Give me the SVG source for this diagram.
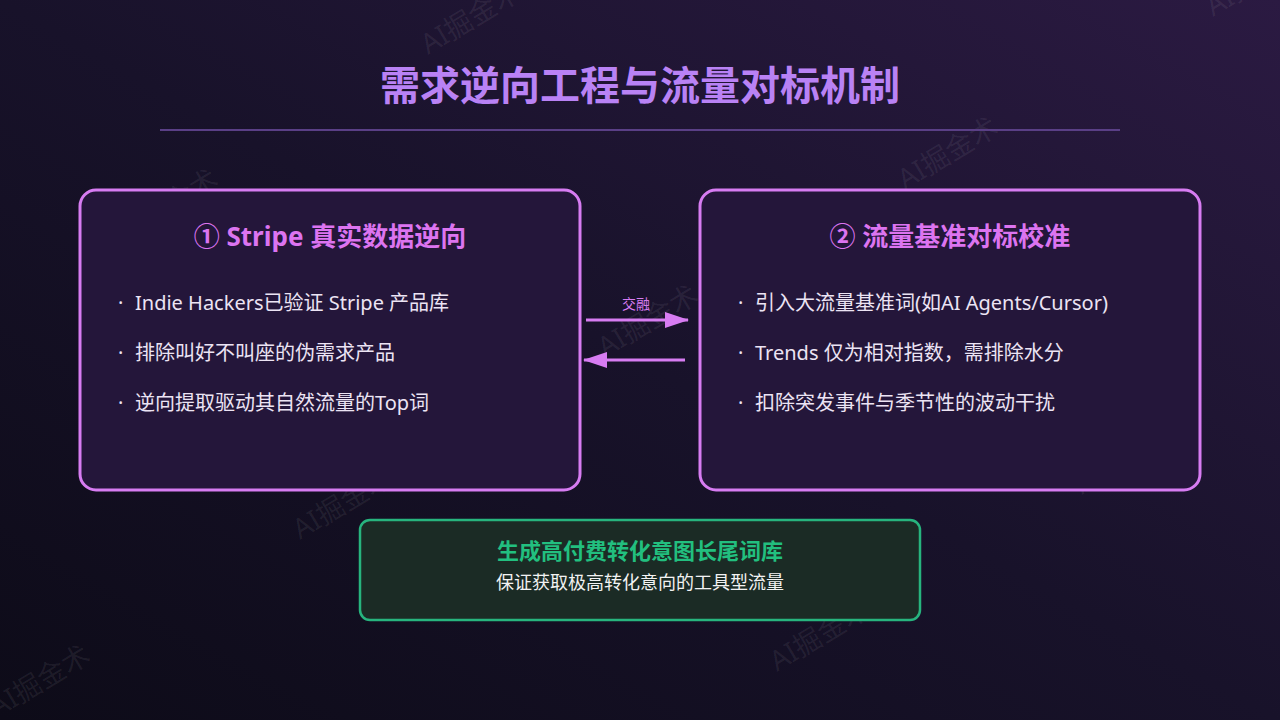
<svg xmlns="http://www.w3.org/2000/svg" width="1280" height="720" viewBox="0 0 1280 720">
  <defs>
    <linearGradient id="bg" x1="0" y1="1" x2="1" y2="0">
      <stop offset="0" stop-color="#0d0b18"/>
      <stop offset="0.5" stop-color="#18122a"/>
      <stop offset="1" stop-color="#2b1a42"/>
    </linearGradient>
    <marker id="ahb" viewBox="0 0 24 16" refX="23" refY="8" markerWidth="24" markerHeight="16" markerUnits="userSpaceOnUse" orient="auto">
      <path d="M0,0 L24,8 L0,16 Z" fill="#d77cf2"/>
    </marker>
  </defs>
  <style>
    text { font-family: "Noto Sans", "Noto Sans CJK SC", sans-serif; }
    .wm { font-size: 28px; fill: #ffffff; fill-opacity: 0.07; }
    .card { fill: #24163a; stroke: #d77cf2; stroke-width: 3; }
    .ctitle { font-size: 26px; font-weight: 700; fill: #dc74f0; text-anchor: middle; }
    .bullet { font-size: 20px; fill: #ece4f4; }
    .conn { stroke: #d77cf2; stroke-width: 3; fill: none; }
  </style>
  <rect width="1280" height="720" fill="url(#bg)"/>

  <g id="watermarks">
    <text class="wm" transform="translate(125,242) rotate(-31)">AI掘金术</text>
    <text class="wm" transform="translate(428,55) rotate(-31)">AI掘金术</text>
    <text class="wm" transform="translate(1213,17) rotate(-31)">AI掘金术</text>
    <text class="wm" transform="translate(905,190) rotate(-31)">AI掘金术</text>
    <text class="wm" transform="translate(300,540) rotate(-31)">AI掘金术</text>
    <text class="wm" transform="translate(605,358) rotate(-31)">AI掘金术</text>
    <text class="wm" transform="translate(1082,495) rotate(-31)">AI掘金术</text>
    <text class="wm" transform="translate(777,672) rotate(-31)">AI掘金术</text>
    <text class="wm" transform="translate(-3,718) rotate(-31)">AI掘金术</text>
  </g>

  <g id="title">
    <text x="640" y="100" text-anchor="middle" font-size="40" font-weight="700" fill="#b982f5">需求逆向工程与流量对标机制</text>
    <line x1="160" y1="130" x2="1120" y2="130" stroke="#5a3f86" stroke-width="2"/>
  </g>

  <g id="node-stripe">
    <rect class="card" x="80" y="190" width="500" height="300" rx="16"/>
    <text class="ctitle" x="330" y="246">① Stripe 真实数据逆向</text>
    <text class="bullet" x="118" y="310">·</text>
    <text class="bullet" x="135" y="310">Indie Hackers已验证 Stripe 产品库</text>
    <text class="bullet" x="118" y="360">·</text>
    <text class="bullet" x="135" y="360">排除叫好不叫座的伪需求产品</text>
    <text class="bullet" x="118" y="410">·</text>
    <text class="bullet" x="135" y="410">逆向提取驱动其自然流量的Top词</text>
  </g>

  <g id="node-benchmark">
    <rect class="card" x="700" y="190" width="500" height="300" rx="16"/>
    <text class="ctitle" x="950" y="246">② 流量基准对标校准</text>
    <text class="bullet" x="738" y="310">·</text>
    <text class="bullet" x="755" y="310">引入大流量基准词(如AI Agents/Cursor)</text>
    <text class="bullet" x="738" y="360">·</text>
    <text class="bullet" x="755" y="360">Trends 仅为相对指数，需排除水分</text>
    <text class="bullet" x="738" y="410">·</text>
    <text class="bullet" x="755" y="410">扣除突发事件与季节性的波动干扰</text>
  </g>

  <g id="node-output">
    <rect x="360" y="520" width="560" height="100" rx="10" fill="#1b2b25" stroke="#27b47e" stroke-width="2.5"/>
    <text x="640" y="559" text-anchor="middle" font-size="22" font-weight="700" fill="#22bf7f">生成高付费转化意图长尾词库</text>
    <text x="640" y="589" text-anchor="middle" font-size="18" fill="#f2f2f2">保证获取极高转化意向的工具型流量</text>
  </g>

  <g id="connectors">
    <line class="conn" x1="586" y1="320" x2="688" y2="320" marker-end="url(#ahb)"/>
    <line class="conn" x1="685" y1="360" x2="584" y2="360" marker-end="url(#ahb)"/>
    <text x="636" y="309" text-anchor="middle" font-size="14" fill="#d77cf2">交融</text>
  </g>
</svg>
